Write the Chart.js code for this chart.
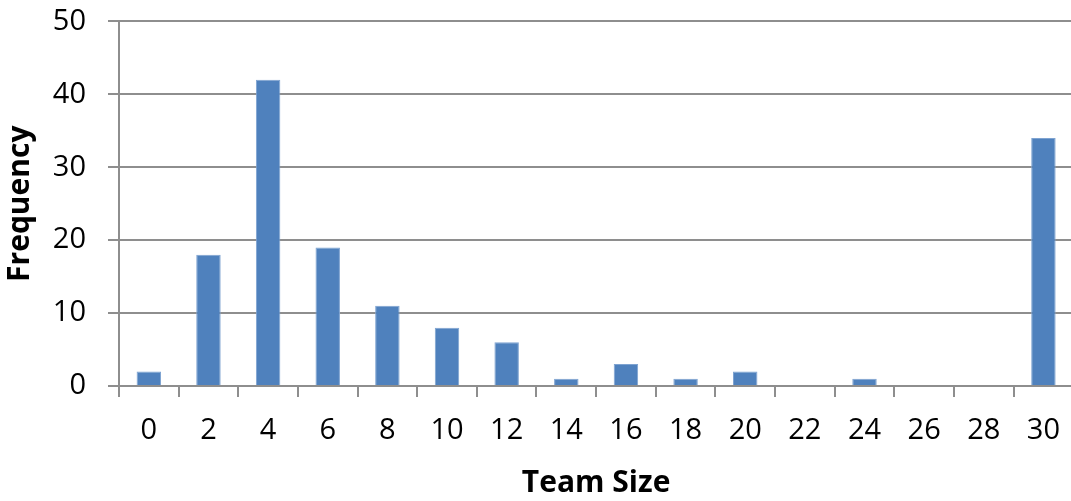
<!DOCTYPE html>
<html>
<head>
<meta charset="utf-8">
<script src="https://cdn.jsdelivr.net/npm/chart.js@4"></script>
<style>
  html, body { margin: 0; padding: 0; background: #ffffff; overflow: hidden; }
  #wrap { position: absolute; left: 0; top: -18px; width: 1076px; height: 519px; }
</style>
</head>
<body>
<div id="wrap"><canvas id="c"></canvas></div>
<script>
const categories = ['0','2','4','6','8','10','12','14','16','18','20','22','24','26','28','30'];
const frequency = [2, 18, 42, 19, 11, 8, 6, 1, 3, 1, 2, 0, 1, 0, 0, 34];
const yTicks = [0, 10, 20, 30, 40, 50];
const xTitle = 'Team Size';
const yTitle = 'Frequency';

const FONT = "'Open Sans', 'Liberation Sans', sans-serif";
const GRID = '#8e8e8e';

new Chart(document.getElementById('c'), {
  type: 'bar',
  data: {
    labels: categories,
    datasets: [{
      data: frequency,
      backgroundColor: '#4f81bd',
      borderColor: '#7ea3d1',
      borderWidth: 1,
      borderSkipped: 'bottom',
      barPercentage: 0.41,
      categoryPercentage: 1.0
    }]
  },
  options: {
    responsive: true,
    maintainAspectRatio: false,
    animation: false,
    layout: { padding: { top: 4, left: 0, right: 0, bottom: 0 } },
    plugins: { legend: { display: false }, tooltip: { enabled: false } },
    scales: {
      x: {
        offset: true,
        grid: { display: true, drawOnChartArea: false, drawTicks: true, tickLength: 11, color: GRID, lineWidth: 2, offset: true },
        border: { display: true, color: GRID, width: 2 },
        ticks: { color: '#000', font: { family: FONT, size: 29 }, padding: 16, maxRotation: 0, autoSkip: false },
        title: { display: true, text: xTitle, color: '#000', font: { family: FONT, size: 30, weight: 'bold' }, padding: { top: 0, bottom: 0 } },
        afterFit: (s) => { s.height = 115; }
      },
      y: {
        min: 0, max: 50,
        afterBuildTicks: (s) => { s.ticks = yTicks.map(v => ({ value: v })); },
        grid: { color: GRID, lineWidth: 2, tickLength: 11, drawTicks: true },
        border: { display: true, color: GRID, width: 2 },
        ticks: { color: '#000', font: { family: FONT, size: 29 }, padding: 22 },
        title: { display: true, text: yTitle, color: '#000', font: { family: FONT, size: 30, weight: 'bold' }, padding: { top: 2, bottom: 0 } },
        afterFit: (s) => { s.width = 119; }
      }
    }
  }
});
</script>
</body>
</html>
